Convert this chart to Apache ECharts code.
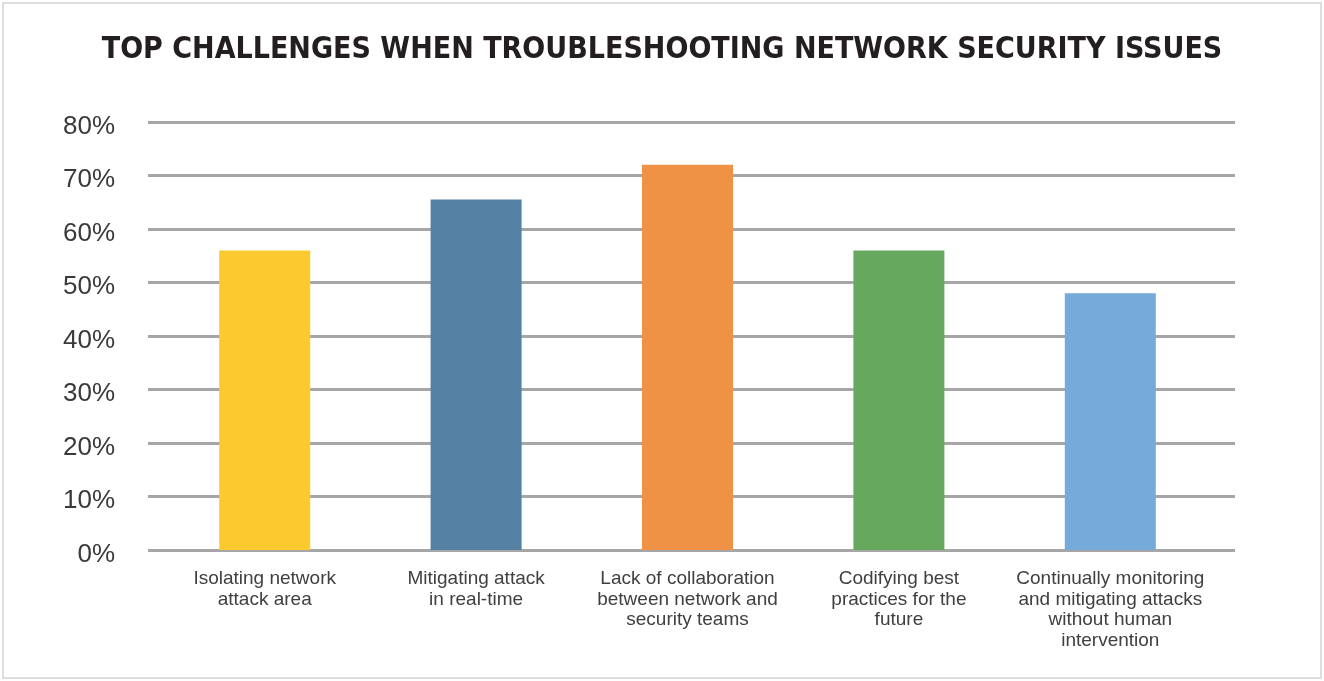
<!DOCTYPE html>
<html>
<head>
<meta charset="utf-8">
<script src="https://cdn.jsdelivr.net/npm/echarts@6/dist/echarts.min.js"></script>
<style>
html,body{margin:0;padding:0;background:#fff;}
#frame{position:absolute;left:2px;top:2px;width:1316px;height:673px;border:2px solid #dedede;}
#chart{position:absolute;left:0;top:0;width:1324px;height:681px;}
</style>
</head>
<body>
<div id="frame"></div>
<div id="chart"></div>
<script>
var titleText = 'TOP CHALLENGES WHEN TROUBLESHOOTING NETWORK SECURITY ISSUES';
var categories = [
  'Isolating network\nattack area',
  'Mitigating attack\nin real-time',
  'Lack of collaboration\nbetween network and\nsecurity teams',
  'Codifying best\npractices for the\nfuture',
  'Continually monitoring\nand mitigating attacks\nwithout human\nintervention'
];
var values = [56, 65.5, 72, 56, 48];
var barColors = ['#FCCA2E', '#5581A5', '#F09245', '#66A95E', '#75AADB'];
var yMin = 0, yMax = 80, yStep = 10;

var chart = echarts.init(document.getElementById('chart'));
chart.setOption({
  animation: false,
  backgroundColor: 'transparent',
  title: {
    text: titleText,
    left: 'center',
    top: 30,
    textStyle: {
      fontFamily: 'DejaVu Sans Condensed',
      fontWeight: 'bold',
      fontSize: 30,
      color: '#231f20'
    }
  },
  grid: [
    {left: 148, right: 89, top: 122, bottom: 131},
    {left: 159, right: 108, top: 122, bottom: 131}
  ],
  xAxis: [
    {type: 'category', gridIndex: 0, data: categories, show: false},
    {
      type: 'category', gridIndex: 1, data: categories,
      axisLine: {show: false}, axisTick: {show: false},
      axisLabel: {
        interval: 0, margin: 19,
        fontFamily: 'Liberation Sans', fontSize: 19, lineHeight: 20.5,
        color: '#404040', align: 'center'
      }
    }
  ],
  yAxis: [
    {
      type: 'value', gridIndex: 0, min: yMin, max: yMax, interval: yStep,
      axisLine: {show: false}, axisTick: {show: false},
      splitLine: {lineStyle: {color: '#a6a6a6', width: 3}},
      axisLabel: {
        formatter: function (v) { return '{p|' + v + '%}'; },
        margin: 33,
        rich: {
          p: {
            fontFamily: 'Liberation Sans', fontSize: 26, color: '#3a3a3a',
            padding: [9, 0, 0, 0]
          }
        }
      }
    },
    {
      type: 'value', gridIndex: 1, min: yMin, max: yMax, interval: yStep,
      show: false
    }
  ],
  series: [{
    type: 'bar',
    xAxisIndex: 1, yAxisIndex: 1,
    barWidth: 91,
    data: values.map(function (v, i) {
      return {value: v, itemStyle: {color: barColors[i]}};
    })
  }]
});
</script>
</body>
</html>
